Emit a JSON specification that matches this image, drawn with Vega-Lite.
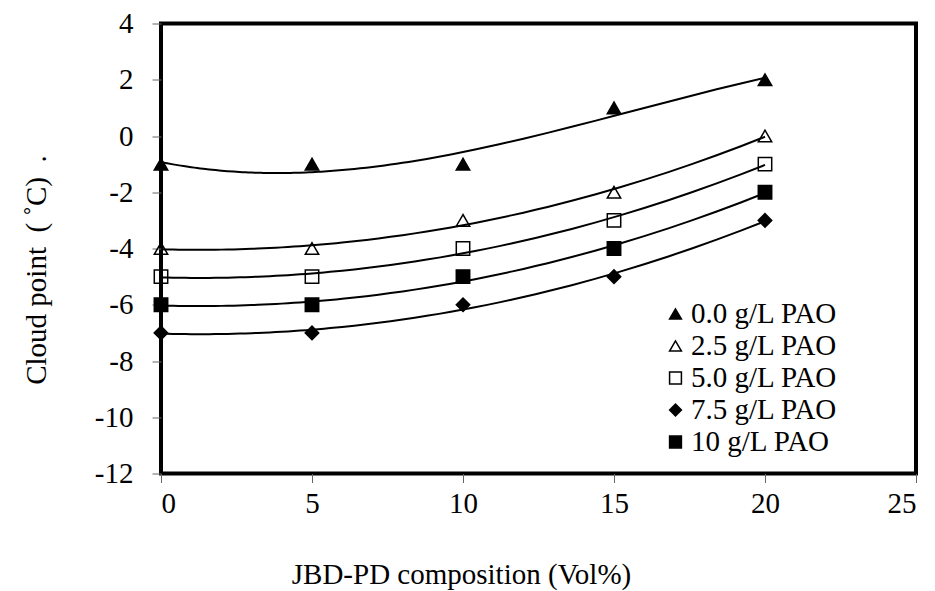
{
  "$schema": "https://vega.github.io/schema/vega-lite/v6.json",
  "width": 755,
  "height": 450,
  "autosize": {"type": "none"},
  "padding": {"left": 161, "top": 23.5, "right": 19, "bottom": 117.5},
  "background": "white",
  "config": {
    "view": {"stroke": "black", "strokeWidth": 4},
    "font": "Liberation Serif",
    "axis": {
      "grid": false,
      "domain": false,
      "tickColor": "#666666",
      "tickWidth": 1,
      "tickSize": 9,
      "labelFont": "Liberation Serif",
      "labelFontSize": 29,
      "labelColor": "black",
      "titleFont": "Liberation Serif",
      "titleFontSize": 29,
      "titleFontWeight": "normal",
      "titleColor": "black"
    },
    "legend": {
      "labelFont": "Liberation Serif",
      "labelFontSize": 29,
      "labelColor": "black"
    }
  },
  "data": {
    "values": [
      {"x": 0, "y": -1, "series": "0.0 g/L PAO"},
      {"x": 5, "y": -1, "series": "0.0 g/L PAO"},
      {"x": 10, "y": -1, "series": "0.0 g/L PAO"},
      {"x": 15, "y": 1, "series": "0.0 g/L PAO"},
      {"x": 20, "y": 2, "series": "0.0 g/L PAO"},
      {"x": 0, "y": -4, "series": "2.5 g/L PAO"},
      {"x": 5, "y": -4, "series": "2.5 g/L PAO"},
      {"x": 10, "y": -3, "series": "2.5 g/L PAO"},
      {"x": 15, "y": -2, "series": "2.5 g/L PAO"},
      {"x": 20, "y": 0, "series": "2.5 g/L PAO"},
      {"x": 0, "y": -5, "series": "5.0 g/L PAO"},
      {"x": 5, "y": -5, "series": "5.0 g/L PAO"},
      {"x": 10, "y": -4, "series": "5.0 g/L PAO"},
      {"x": 15, "y": -3, "series": "5.0 g/L PAO"},
      {"x": 20, "y": -1, "series": "5.0 g/L PAO"},
      {"x": 0, "y": -7, "series": "7.5 g/L PAO"},
      {"x": 5, "y": -7, "series": "7.5 g/L PAO"},
      {"x": 10, "y": -6, "series": "7.5 g/L PAO"},
      {"x": 15, "y": -5, "series": "7.5 g/L PAO"},
      {"x": 20, "y": -3, "series": "7.5 g/L PAO"},
      {"x": 0, "y": -6, "series": "10 g/L PAO"},
      {"x": 5, "y": -6, "series": "10 g/L PAO"},
      {"x": 10, "y": -5, "series": "10 g/L PAO"},
      {"x": 15, "y": -4, "series": "10 g/L PAO"},
      {"x": 20, "y": -2, "series": "10 g/L PAO"}
    ]
  },
  "layer": [
    {
      "transform": [
        {"regression": "y", "on": "x", "groupby": ["series"], "method": "poly", "order": 3, "extent": [0, 20]}
      ],
      "mark": {"type": "line", "color": "black", "strokeWidth": 2},
      "encoding": {
        "x": {"field": "x", "type": "quantitative"},
        "y": {"field": "y", "type": "quantitative"},
        "detail": {"field": "series", "type": "nominal"}
      }
    },
    {
      "mark": {"type": "point", "filled": true, "stroke": "black", "strokeWidth": 1.5, "size": 180, "opacity": 1},
      "encoding": {
        "x": {
          "field": "x", "type": "quantitative",
          "scale": {"domain": [0, 25], "nice": false, "zero": false},
          "axis": {
            "values": [0, 5, 10, 15, 20, 25],
            "labelExpr": "'' + datum.value",
            "labelPadding": 7,
            "title": "JBD-PD composition (Vol%)",
            "titleX": 300,
            "titleY": 110,
            "titleAlign": "center",
            "titleBaseline": "alphabetic",
            "titleAnchor": null
          }
        },
        "y": {
          "field": "y", "type": "quantitative",
          "scale": {"domain": [-12, 4], "nice": false, "zero": false},
          "axis": {
            "values": [-12, -10, -8, -6, -4, -2, 0, 2, 4],
            "labelExpr": "'' + datum.value",
            "labelPadding": 19,
            "title": "Cloud point\u00a0 (\u00a0˚C)\u00a0 .",
            "titleAngle": -90,
            "titleX": -116,
            "titleY": 246,
            "titleAlign": "center",
            "titleBaseline": "alphabetic",
            "titleAnchor": null
          }
        },
        "shape": {
          "field": "series", "type": "nominal",
          "scale": {
            "domain": ["0.0 g/L PAO", "2.5 g/L PAO", "5.0 g/L PAO", "7.5 g/L PAO", "10 g/L PAO"],
            "range": ["triangle-up", "triangle-up", "square", "diamond", "square"]
          },
          "legend": {
            "title": null,
            "orient": "none",
            "legendX": 500,
            "legendY": 276,
            "padding": 0,
            "symbolSize": 140,
            "labelOffset": 1,
            "rowPadding": 2,
            "encode": {"symbols": {"update": {"stroke": {"value": "black"}, "strokeWidth": {"value": 1.5}, "opacity": {"value": 1}}}}
          }
        },
        "fill": {
          "field": "series", "type": "nominal",
          "scale": {
            "domain": ["0.0 g/L PAO", "2.5 g/L PAO", "5.0 g/L PAO", "7.5 g/L PAO", "10 g/L PAO"],
            "range": ["black", "transparent", "transparent", "black", "black"]
          },
          "legend": {
            "title": null,
            "orient": "none",
            "legendX": 500,
            "legendY": 276,
            "padding": 0,
            "symbolSize": 140,
            "labelOffset": 1,
            "rowPadding": 2,
            "encode": {"symbols": {"update": {"stroke": {"value": "black"}, "strokeWidth": {"value": 1.5}, "opacity": {"value": 1}}}}
          }
        }
      }
    }
  ]
}
